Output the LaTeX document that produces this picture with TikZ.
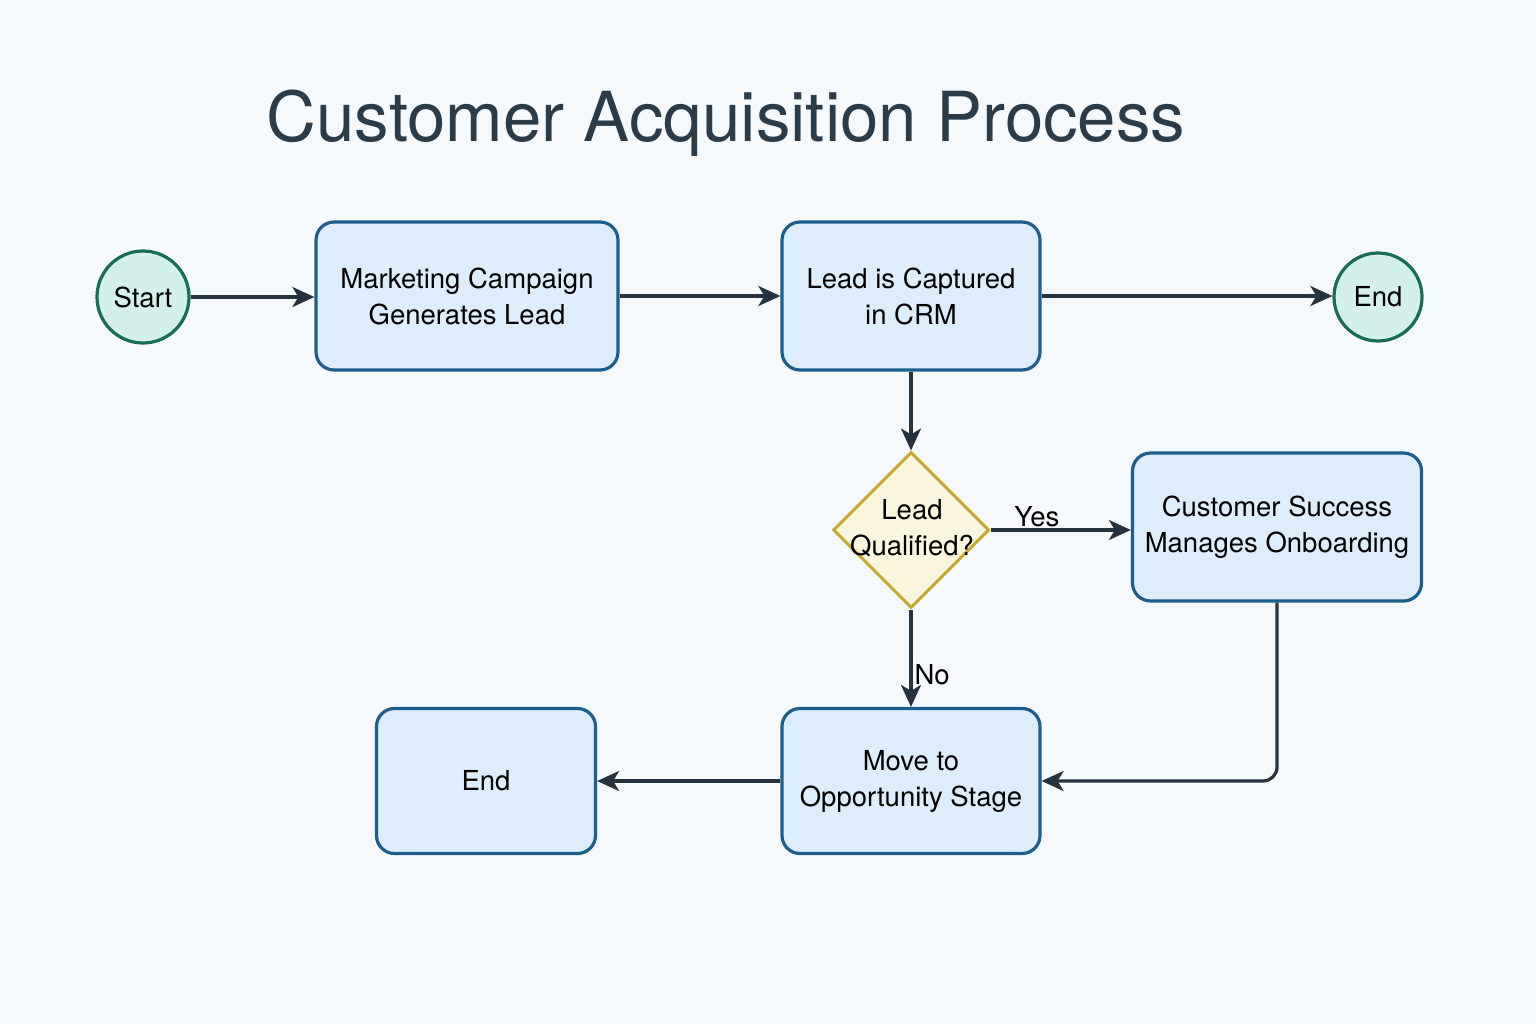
\documentclass[tikz,border=0pt]{standalone}
\usepackage{fontspec}
\setmainfont{TeX Gyre Heros}
\usepackage{xcolor}
\usepackage{tikz}
\usetikzlibrary{calc, shapes, shapes.geometric, backgrounds, arrows.meta, positioning}

\definecolor{tlo}{HTML}{F5F9FC}
\definecolor{pudelko}{HTML}{DDEDFB}
\definecolor{ramka}{HTML}{1D5E8C}
\definecolor{kolo}{HTML}{D3F1EA}
\definecolor{kolor}{HTML}{1B6B5B}
\definecolor{romb}{HTML}{FAF6DD}
\definecolor{rombr}{HTML}{C9A830}
\definecolor{linia}{HTML}{26333E}
\definecolor{tytul}{HTML}{2C3B48}

\tikzset{
  krok/.style={draw=ramka, fill=pudelko, line width=3.2pt, rounded corners=18pt,
    align=center, text=black, inner sep=0pt, font=\fontsize{27.5}{36}\selectfont},
  okrag/.style={circle, draw=kolor, fill=kolo, line width=3.2pt, inner sep=0pt,
    text=black, font=\fontsize{27.5}{36}\selectfont},
  decyzja/.style={diamond, draw=rombr, fill=romb, line width=3pt, inner sep=0pt,
    minimum width=156pt, minimum height=156pt},
  strz/.style={draw=linia, line width=3.2pt, -{Stealth[length=22pt, width=20pt, inset=6pt]}},
  etykieta/.style={text=black, font=\fontsize{27.5}{36}\selectfont, inner sep=2pt}
}

\begin{document}
\begin{tikzpicture}[x=1pt, y=-1pt]
\useasboundingbox[fill=tlo] (0,0) rectangle (1536,1024);
\node[anchor=base, text=tytul, font=\fontsize{69}{80}\selectfont](tytul) at (726,142) {Customer Acquisition Process};

\node[okrag, minimum size=92pt](start) at (143,297) {Start};
\node[krok, minimum width=302pt, minimum height=148pt](market) at (467,296) {Marketing Campaign\\Generates Lead};
\node[krok, minimum width=258pt, minimum height=148pt](crm) at (911,296) {Lead is Captured\\in CRM};
\node[okrag, minimum size=88pt](koniec) at (1378,297) {End};

\node[decyzja](qual) at (911,530) {};
\node[etykieta, align=center](qualtxt) at (912,528) {Lead\\Qualified?};
\node[krok, minimum width=289pt, minimum height=148pt](success) at (1277,527) {Customer Success\\Manages Onboarding};

\node[krok, minimum width=258pt, minimum height=145pt](opport) at (911,781) {Move to\\Opportunity Stage};
\node[krok, minimum width=219pt, minimum height=145pt](endb) at (486,781) {End};

\path[strz](start.east) -- (start.east -| market.west);
\path[strz](market.east) -- (crm.west);
\path[strz](crm.east) -- (crm.east -| koniec.west);
\path[strz](crm.south) -- (qual.north);
\path[strz](qual.east) -- node[etykieta, pos=0.33, above, inner sep=1pt] {Yes} (qual.east -| success.west);
\path[strz](qual.south) -- node[etykieta, pos=0.67, right] {No} (opport.north);
\path[strz, rounded corners=14pt](success.south) |- (opport.east);
\path[strz](opport.west) -- (endb.east);
\end{tikzpicture}
\end{document}
